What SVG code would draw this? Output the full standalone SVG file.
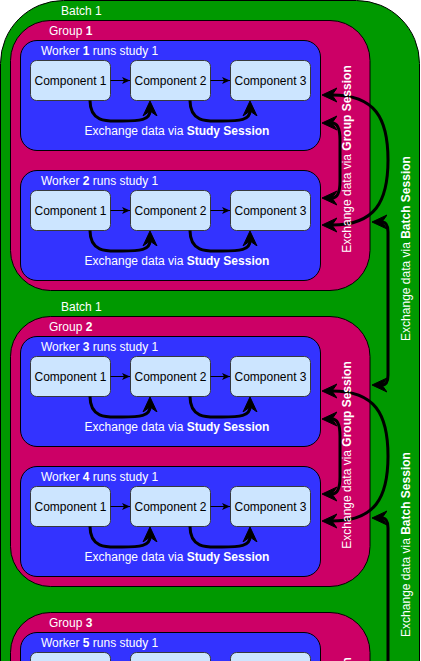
<svg xmlns="http://www.w3.org/2000/svg" width="421" height="661" viewBox="0 0 421 661">
<style>
text{font-family:"Liberation Sans",Arial,sans-serif;font-size:12px}
.lbl{fill:#fff}
.ct{fill:#000;text-anchor:middle}
.mid{text-anchor:middle}
.batch{fill:#009900;stroke:#000;stroke-width:1}
.grp{fill:#CC0066;stroke:#000;stroke-width:1}
.wrk{fill:#3333FF;stroke:#000;stroke-width:1}
.cmp{fill:#CCE5FF;stroke:#36393d;stroke-width:1}
.thin{fill:none;stroke:#000;stroke-width:1;marker-end:url(#small)}
.thick{fill:none;stroke:#000;stroke-width:3;marker-end:url(#big)}
.both{fill:none;stroke:#000;stroke-width:3;marker-start:url(#big);marker-end:url(#big)}
</style>
<defs>
<marker id="small" markerUnits="userSpaceOnUse" markerWidth="9" markerHeight="8" viewBox="0 0 9 8" refX="8" refY="4" orient="auto"><path d="M0 0.5 L8 4 L0 7.5 L2 4 Z" fill="#000"/></marker>
<marker id="big" markerUnits="userSpaceOnUse" markerWidth="16" markerHeight="16" viewBox="0 0 16 16" refX="5" refY="8" orient="auto-start-reverse"><path d="M0 1 L15 8 L0 15 L5 8 Z" fill="#000" stroke="#000" stroke-width="1"/></marker>
</defs>

<g id="batch1">
<rect class="batch" x="0.5" y="0.5" width="419" height="1300" rx="63"/>
<text class="lbl" x="61" y="15">Batch 1</text>
<text class="lbl" x="61" y="311">Batch 1</text>
</g>

<g id="group1">
<rect class="grp" x="10.5" y="20.5" width="359.5" height="270" rx="40"/>
<text class="lbl" x="49" y="35">Group <tspan font-weight="bold">1</tspan></text>
</g>
<g id="worker1">
<rect class="wrk" x="20.5" y="40.5" width="300" height="110" rx="16.5"/>
<text class="lbl" x="41" y="55">Worker <tspan font-weight="bold">1</tspan> runs study 1</text>
<text class="lbl mid" x="177" y="134.5">Exchange data via <tspan font-weight="bold">Study Session</tspan></text>
</g>
<g id="w1c1"><rect class="cmp" x="30.5" y="60.5" width="80" height="40" rx="6"/><text class="ct" x="70.5" y="84.5">Component 1</text></g>
<g id="w1c2"><rect class="cmp" x="130.5" y="60.5" width="80" height="40" rx="6"/><text class="ct" x="170.5" y="84.5">Component 2</text></g>
<g id="w1c3"><rect class="cmp" x="230.5" y="60.5" width="80" height="40" rx="6"/><text class="ct" x="270.5" y="84.5">Component 3</text></g>

<g id="worker2">
<rect class="wrk" x="20.5" y="170.5" width="300" height="110" rx="16.5"/>
<text class="lbl" x="41" y="185">Worker <tspan font-weight="bold">2</tspan> runs study 1</text>
<text class="lbl mid" x="177" y="264.5">Exchange data via <tspan font-weight="bold">Study Session</tspan></text>
</g>
<g id="w2c1"><rect class="cmp" x="30.5" y="190.5" width="80" height="40" rx="6"/><text class="ct" x="70.5" y="214.5">Component 1</text></g>
<g id="w2c2"><rect class="cmp" x="130.5" y="190.5" width="80" height="40" rx="6"/><text class="ct" x="170.5" y="214.5">Component 2</text></g>
<g id="w2c3"><rect class="cmp" x="230.5" y="190.5" width="80" height="40" rx="6"/><text class="ct" x="270.5" y="214.5">Component 3</text></g>

<g id="group2">
<rect class="grp" x="10.5" y="316.5" width="359.5" height="270" rx="40"/>
<text class="lbl" x="49" y="331">Group <tspan font-weight="bold">2</tspan></text>
</g>
<g id="worker3">
<rect class="wrk" x="20.5" y="336.5" width="300" height="110" rx="16.5"/>
<text class="lbl" x="41" y="351">Worker <tspan font-weight="bold">3</tspan> runs study 1</text>
<text class="lbl mid" x="177" y="430.5">Exchange data via <tspan font-weight="bold">Study Session</tspan></text>
</g>
<g id="w3c1"><rect class="cmp" x="30.5" y="356.5" width="80" height="40" rx="6"/><text class="ct" x="70.5" y="380.5">Component 1</text></g>
<g id="w3c2"><rect class="cmp" x="130.5" y="356.5" width="80" height="40" rx="6"/><text class="ct" x="170.5" y="380.5">Component 2</text></g>
<g id="w3c3"><rect class="cmp" x="230.5" y="356.5" width="80" height="40" rx="6"/><text class="ct" x="270.5" y="380.5">Component 3</text></g>

<g id="worker4">
<rect class="wrk" x="20.5" y="466.5" width="300" height="110" rx="16.5"/>
<text class="lbl" x="41" y="481">Worker <tspan font-weight="bold">4</tspan> runs study 1</text>
<text class="lbl mid" x="177" y="560.5">Exchange data via <tspan font-weight="bold">Study Session</tspan></text>
</g>
<g id="w4c1"><rect class="cmp" x="30.5" y="486.5" width="80" height="40" rx="6"/><text class="ct" x="70.5" y="510.5">Component 1</text></g>
<g id="w4c2"><rect class="cmp" x="130.5" y="486.5" width="80" height="40" rx="6"/><text class="ct" x="170.5" y="510.5">Component 2</text></g>
<g id="w4c3"><rect class="cmp" x="230.5" y="486.5" width="80" height="40" rx="6"/><text class="ct" x="270.5" y="510.5">Component 3</text></g>

<g id="group3">
<rect class="grp" x="10.5" y="612.5" width="359.5" height="270" rx="40"/>
<text class="lbl" x="49" y="627">Group <tspan font-weight="bold">3</tspan></text>
</g>
<g id="worker5">
<rect class="wrk" x="20.5" y="632.5" width="300" height="110" rx="16.5"/>
<text class="lbl" x="41" y="647">Worker <tspan font-weight="bold">5</tspan> runs study 1</text>
</g>
<g id="w5c1"><rect class="cmp" x="30.5" y="652.5" width="80" height="40" rx="6"/></g>
<g id="w5c2"><rect class="cmp" x="130.5" y="652.5" width="80" height="40" rx="6"/></g>
<g id="w5c3"><rect class="cmp" x="230.5" y="652.5" width="80" height="40" rx="6"/></g>

<g id="connectors">
<path class="thin" d="M110.5 80.5 L130 80.5"/>
<path class="thin" d="M210.5 80.5 L230 80.5"/>
<path class="thin" d="M110.5 210.5 L130 210.5"/>
<path class="thin" d="M210.5 210.5 L230 210.5"/>
<path class="thin" d="M110.5 376.5 L130 376.5"/>
<path class="thin" d="M210.5 376.5 L230 376.5"/>
<path class="thin" d="M110.5 506.5 L130 506.5"/>
<path class="thin" d="M210.5 506.5 L230 506.5"/>

<path class="thick" d="M90 100.5 C90 124 110 121 122 121 C140 121 150 120 150 111"/>
<path class="thick" d="M190 100.5 C190 124 210 121 222 121 C240 121 250 120 250 111"/>
<path class="thick" d="M90 230.5 C90 254 110 251 122 251 C140 251 150 250 150 241"/>
<path class="thick" d="M190 230.5 C190 254 210 251 222 251 C240 251 250 250 250 241"/>
<path class="thick" d="M90 396.5 C90 420 110 417 122 417 C140 417 150 416 150 407"/>
<path class="thick" d="M190 396.5 C190 420 210 417 222 417 C240 417 250 416 250 407"/>
<path class="thick" d="M90 526.5 C90 550 110 547 122 547 C140 547 150 546 150 537"/>
<path class="thick" d="M190 526.5 C190 550 210 547 222 547 C240 547 250 546 250 537"/>

<path class="both" d="M332 95 C375 95 388 118 388 160 C388 202 375 225 332 225"/>
<path class="both" d="M332 123 C338 123 340 130 340 140 L340 181 C340 191 338 198 332 198"/>
<path class="both" d="M332 391 C375 391 388 414 388 456 C388 498 375 521 332 521"/>
<path class="both" d="M332 419 C338 419 340 426 340 436 L340 477 C340 487 338 494 332 494"/>

<path class="both" d="M382 222 Q388 222 388 232 L388 375 Q388 385 382 385"/>
<path class="both" d="M382 518 Q388 518 388 528 L388 671 Q388 681 382 681"/>
</g>

<g id="session-labels">
<text class="lbl mid" transform="translate(351,159) rotate(-90)">Exchange data via <tspan font-weight="bold">Group Session</tspan></text>
<text class="lbl mid" transform="translate(351,455) rotate(-90)">Exchange data via <tspan font-weight="bold">Group Session</tspan></text>
<text class="lbl mid" transform="translate(351,751) rotate(-90)">Exchange data via <tspan font-weight="bold">Group Session</tspan></text>
<text class="lbl mid" transform="translate(410,248.5) rotate(-90)">Exchange data via <tspan font-weight="bold">Batch Session</tspan></text>
<text class="lbl mid" transform="translate(410,544.5) rotate(-90)">Exchange data via <tspan font-weight="bold">Batch Session</tspan></text>
</g>
</svg>
